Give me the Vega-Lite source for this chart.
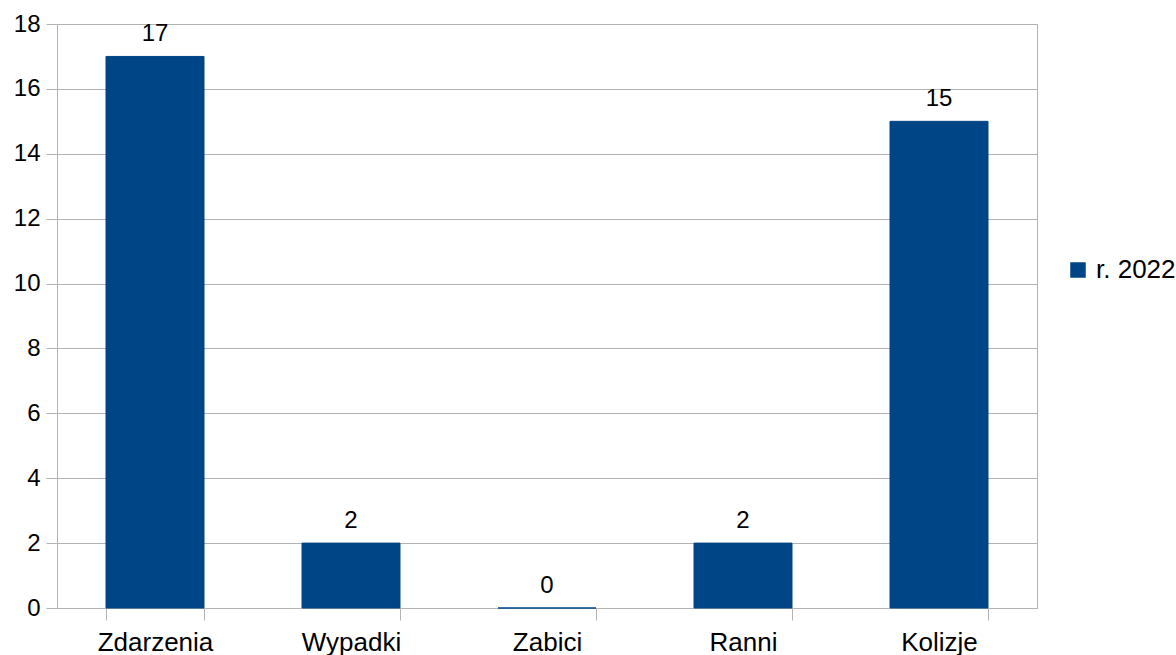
{
  "$schema": "https://vega.github.io/schema/vega-lite/v6.json",
  "autosize": "none",
  "width": 980,
  "height": 584,
  "padding": {"left": 57, "top": 24, "right": 139, "bottom": 47},
  "background": "white",
  "config": {
    "font": "Liberation Sans",
    "view": {"stroke": "#b3b3b3", "strokeWidth": 1}
  },
  "data": {
    "values": [
      {"kategoria": "Zdarzenia", "wartosc": 17, "seria": "r. 2022"},
      {"kategoria": "Wypadki", "wartosc": 2, "seria": "r. 2022"},
      {"kategoria": "Zabici", "wartosc": 0, "seria": "r. 2022"},
      {"kategoria": "Ranni", "wartosc": 2, "seria": "r. 2022"},
      {"kategoria": "Kolizje", "wartosc": 15, "seria": "r. 2022"}
    ]
  },
  "encoding": {
    "x": {
      "field": "kategoria",
      "type": "nominal",
      "sort": null,
      "scale": {"paddingInner": 0.5, "paddingOuter": 0.25},
      "axis": {
        "title": null,
        "labelAngle": 0,
        "labelFont": "Liberation Sans",
        "labelFontSize": 26,
        "labelColor": "#000000",
        "labelPadding": 9,
        "tickBand": "extent",
        "tickSize": 12,
        "tickColor": "#b3b3b3",
        "domainColor": "#b3b3b3",
        "grid": false
      }
    },
    "y": {
      "field": "wartosc",
      "type": "quantitative",
      "scale": {"domain": [0, 18], "nice": false},
      "axis": {
        "title": null,
        "values": [0, 2, 4, 6, 8, 10, 12, 14, 16, 18],
        "labelFont": "Liberation Sans",
        "labelFontSize": 24,
        "labelColor": "#000000",
        "labelPadding": 6,
        "tickSize": 11,
        "tickColor": "#b3b3b3",
        "domainColor": "#b3b3b3",
        "gridColor": "#b3b3b3",
        "grid": true
      }
    }
  },
  "layer": [
    {
      "mark": {"type": "bar", "stroke": "#004586", "strokeWidth": 1},
      "encoding": {
        "color": {
          "field": "seria",
          "type": "nominal",
          "scale": {"range": ["#004586"]},
          "legend": {
            "title": null,
            "orient": "none",
            "legendX": 1008,
            "legendY": 233,
            "symbolType": "square",
            "symbolSize": 240,
            "symbolStrokeWidth": 0,
            "symbolOpacity": 1,
            "labelFont": "Liberation Sans",
            "labelFontSize": 26,
            "labelColor": "#000000",
            "labelOffset": 5
          }
        }
      }
    },
    {
      "mark": {"type": "text", "baseline": "bottom", "dy": -10, "font": "Liberation Sans", "fontSize": 24, "color": "#000000"},
      "encoding": {
        "text": {"field": "wartosc", "type": "quantitative"}
      }
    }
  ]
}
